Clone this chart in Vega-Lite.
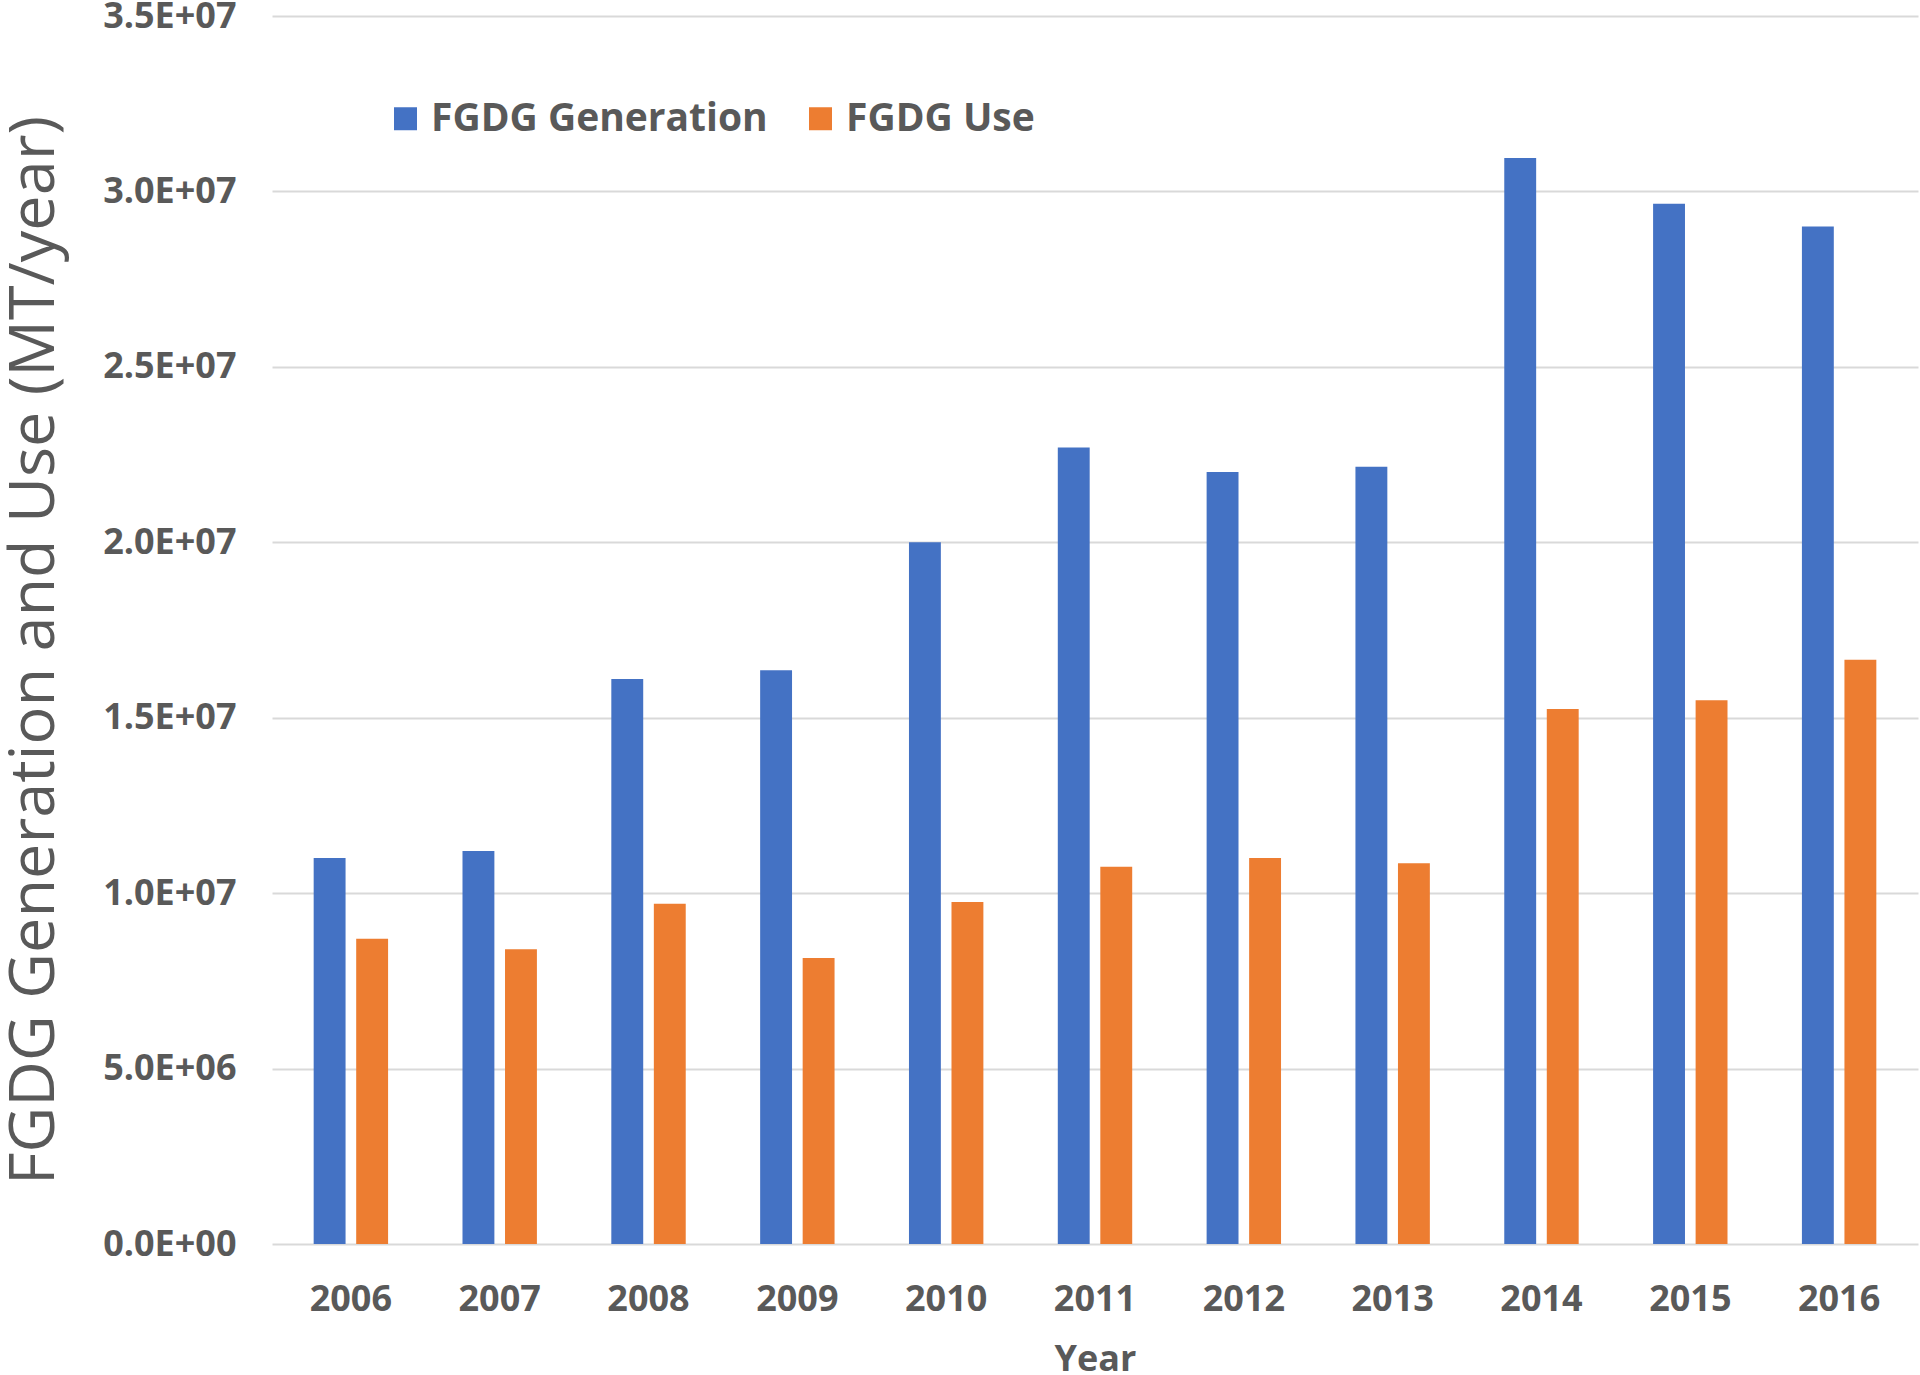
{
  "$schema": "https://vega.github.io/schema/vega-lite/v6.json",
  "autosize": {"type": "none"},
  "padding": {"left": 272, "top": 16, "right": 2, "bottom": 131},
  "width": 1646,
  "height": 1228,
  "background": "white",
  "data": {
    "values": [
      {"Year": "2006", "Series": "FGDG Generation", "Value": 11000000},
      {"Year": "2007", "Series": "FGDG Generation", "Value": 11200000},
      {"Year": "2008", "Series": "FGDG Generation", "Value": 16100000},
      {"Year": "2009", "Series": "FGDG Generation", "Value": 16350000},
      {"Year": "2010", "Series": "FGDG Generation", "Value": 20000000},
      {"Year": "2011", "Series": "FGDG Generation", "Value": 22700000},
      {"Year": "2012", "Series": "FGDG Generation", "Value": 22000000},
      {"Year": "2013", "Series": "FGDG Generation", "Value": 22150000},
      {"Year": "2014", "Series": "FGDG Generation", "Value": 30950000},
      {"Year": "2015", "Series": "FGDG Generation", "Value": 29650000},
      {"Year": "2016", "Series": "FGDG Generation", "Value": 29000000},
      {"Year": "2006", "Series": "FGDG Use", "Value": 8700000},
      {"Year": "2007", "Series": "FGDG Use", "Value": 8400000},
      {"Year": "2008", "Series": "FGDG Use", "Value": 9700000},
      {"Year": "2009", "Series": "FGDG Use", "Value": 8150000},
      {"Year": "2010", "Series": "FGDG Use", "Value": 9750000},
      {"Year": "2011", "Series": "FGDG Use", "Value": 10750000},
      {"Year": "2012", "Series": "FGDG Use", "Value": 11000000},
      {"Year": "2013", "Series": "FGDG Use", "Value": 10850000},
      {"Year": "2014", "Series": "FGDG Use", "Value": 15250000},
      {"Year": "2015", "Series": "FGDG Use", "Value": 15500000},
      {"Year": "2016", "Series": "FGDG Use", "Value": 16650000}
    ]
  },
  "mark": {"type": "bar"},
  "encoding": {
    "x": {
      "field": "Year",
      "type": "nominal",
      "sort": null,
      "scale": {"paddingInner": 0.5, "paddingOuter": 0.28},
      "axis": {
        "title": "Year",
        "labelAngle": 0,
        "ticks": false,
        "domain": false,
        "grid": false,
        "labelFont": "Open Sans",
        "labelFontWeight": "bold",
        "labelFontSize": 36,
        "labelColor": "#595959",
        "labelPadding": 38,
        "titleFont": "Open Sans",
        "titleFontWeight": "bold",
        "titleFontSize": 36,
        "titleColor": "#595959",
        "titleBaseline": "middle",
        "titleY": 115
      }
    },
    "xOffset": {
      "field": "Series",
      "type": "nominal",
      "sort": ["FGDG Generation", "FGDG Use"],
      "scale": {"paddingInner": 0.25, "paddingOuter": 0}
    },
    "y": {
      "field": "Value",
      "type": "quantitative",
      "scale": {"domain": [0, 35000000], "nice": false},
      "axis": {
        "title": "FGDG Generation and Use (MT/year)",
        "values": [0, 5000000, 10000000, 15000000, 20000000, 25000000, 30000000, 35000000],
        "labelExpr": "replace(format(datum.value, '.1e'), 'e+', 'E+0')",
        "ticks": false,
        "domain": false,
        "grid": true,
        "gridColor": "#D9D9D9",
        "gridWidth": 2,
        "labelFont": "Open Sans",
        "labelFontWeight": "bold",
        "labelFontSize": 36,
        "labelColor": "#595959",
        "labelPadding": 36,
        "titleFont": "Open Sans",
        "titleFontWeight": "normal",
        "titleFontSize": 63,
        "titleColor": "#595959",
        "titleAngle": -90,
        "titleAlign": "center",
        "titleBaseline": "middle",
        "titleX": -238,
        "titleY": 634
      }
    },
    "color": {
      "field": "Series",
      "type": "nominal",
      "scale": {"domain": ["FGDG Generation", "FGDG Use"], "range": ["#4472C4", "#ED7D31"]},
      "legend": {
        "title": null,
        "orient": "none",
        "legendX": 114,
        "legendY": 83,
        "direction": "horizontal",
        "columns": 2,
        "columnPadding": 33,
        "padding": 0,
        "symbolType": "square",
        "symbolSize": 529,
        "symbolStrokeWidth": 0,
        "symbolOpacity": 1,
        "labelOffset": 6,
        "labelFont": "Open Sans",
        "labelFontWeight": "bold",
        "labelFontSize": 39,
        "labelColor": "#595959",
        "labelLimit": 600
      }
    }
  },
  "config": {
    "view": {"stroke": null}
  }
}
